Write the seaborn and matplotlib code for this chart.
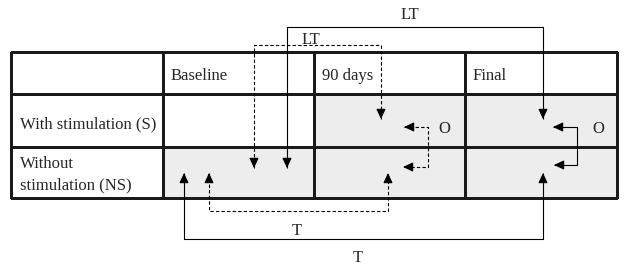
import matplotlib.pyplot as plt
import seaborn as sns
from matplotlib.colors import ListedColormap

# table content
col_labels = ["", "Baseline", "90 days", "Final"]
row_labels = ["With stimulation (S)", "Without\nstimulation (NS)"]
shaded = [[0, 0, 0, 0],
          [0, 0, 1, 1],
          [0, 1, 1, 1]]

# comparison connectors
conn_labels = ["LT", "LT", "O", "O", "T", "T"]
conn_styles = ["solid", "dashed", "dashed", "solid", "dashed", "solid"]

# layout in pixels (figure is 629 x 265)
x_edges = [11, 163, 314, 465, 617]
y_edges = [52, 94, 147, 198]
conn_paths = [
    [(287, 168), (287, 27), (543, 27), (543, 119)],
    [(254, 168), (254, 45), (381, 45), (381, 119)],
    [(404, 127), (428, 127), (428, 167), (403, 167)],
    [(553, 127), (577, 127), (577, 165), (554, 165)],
    [(209, 173), (209, 211), (388, 211), (388, 173)],
    [(184, 173), (184, 239), (543, 239), (543, 173)],
]
conn_label_xy = [(410, 19), (311, 44), (444, 133), (598, 133), (297, 235), (358, 262)]

sns.set_style("white")
plt.rcParams["font.family"] = ["Liberation Serif", "DejaVu Serif"]

fig = plt.figure(figsize=(6.29, 2.65), dpi=100)
ax = fig.add_axes([0, 0, 1, 1])
ax.set_xlim(0, 629)
ax.set_ylim(265, 0)
ax.axis("off")

ax.pcolormesh(x_edges, y_edges, shaded, cmap=ListedColormap(["white", "#ededed"]),
              edgecolors="#1a1a1a", linewidth=0.8, zorder=1)

for i, lab in enumerate(col_labels):
    ax.text(x_edges[i] + 8, 80, lab, fontsize=12, va="baseline", ha="left")

for r, lab in enumerate(row_labels):
    lines = lab.split("\n")
    base = 128 if len(lines) == 1 else 168
    for j, line in enumerate(lines):
        ax.text(20, base + 21 * j, line, fontsize=12, va="baseline", ha="left")

dash = (0, (3, 2))
for path, style, lab, (lx, ly) in zip(conn_paths, conn_styles, conn_labels, conn_label_xy):
    xs = [p[0] for p in path]
    ys = [p[1] for p in path]
    ls = "-" if style == "solid" else dash
    ax.plot(xs, ys, color="black", lw=0.8, ls=ls, zorder=3, solid_capstyle="butt")
    for tip, prev in [(path[0], path[1]), (path[-1], path[-2])]:
        dx = prev[0] - tip[0]
        dy = prev[1] - tip[1]
        n = max(abs(dx), abs(dy))
        start = (tip[0] + dx / n * 9, tip[1] + dy / n * 9)
        ax.annotate("", xy=tip, xytext=start,
                    arrowprops=dict(arrowstyle="-|>,head_length=0.6,head_width=0.28",
                                    color="black", lw=0.8, shrinkA=0, shrinkB=0),
                    zorder=4)
    ax.text(lx, ly, lab, fontsize=12, va="baseline", ha="center", zorder=5)

fig.savefig("out.png", dpi=100)
